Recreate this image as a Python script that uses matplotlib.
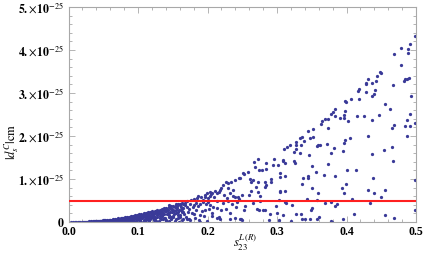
import numpy as np
import matplotlib
matplotlib.use("Agg")
import matplotlib.pyplot as plt
from matplotlib.ticker import MultipleLocator

plt.rcParams['mathtext.fontset'] = 'stix'
plt.rcParams['font.family'] = ['Liberation Serif', 'DejaVu Serif']

# ---- data (s23 in units, |d_s^C| in units of 1e-25 cm) ----
far_x = [0.499,0.491,0.478,0.489,0.489,0.468,0.479,0.448,0.449,0.444,0.490,0.487,0.484,0.483,
         0.431,0.428,0.428,0.442,0.436,0.467,0.418,0.417,0.441,0.428,0.439,0.436,0.493,0.406,
         0.418,0.398,0.399,0.456,0.462,0.384,0.398,0.380,0.378,0.447,0.492,
         0.384,0.396,0.396,0.391,0.402,0.415,0.425,0.437,0.498,0.487,0.492,0.484,0.468,0.465,
         0.431,0.487,0.405,0.398,0.396,0.382,0.377,0.395,0.465,0.454,0.436,0.467,0.400,0.413,
         0.383,0.438,0.499,0.399,0.393,0.431,0.456,0.397,0.439,0.450,0.408,0.387,0.383,0.434,
         0.498,0.411,0.456,0.468,0.395,0.379]
far_y = [4.33,4.15,4.05,4.02,3.92,3.91,3.65,3.50,3.46,3.40,3.36,3.33,3.33,3.29,
         3.33,3.24,3.21,3.29,3.23,3.19,3.10,3.05,3.07,3.02,2.97,2.94,2.94,2.86,
         2.86,2.81,2.80,2.74,2.63,2.63,2.58,2.55,2.52,2.49,2.52,
         2.47,2.48,2.43,2.41,2.35,2.47,2.47,2.38,2.31,2.38,2.24,2.23,2.25,2.18,
         1.99,1.99,1.95,1.90,1.84,1.72,1.60,1.66,1.74,1.67,1.57,1.43,1.22,1.22,
         1.07,1.02,0.98,0.88,0.80,0.74,0.74,0.67,0.67,0.59,0.53,0.43,0.38,0.44,
         0.29,0.19,0.16,0.09,0.08,0.01]

mid_x = [0.369,0.374,0.365,0.363,0.374,0.352,0.345,0.336,0.333,0.352,0.347,0.339,0.327,0.372,
         0.359,0.362,0.318,
         0.315,0.310,0.328,0.335,0.328,0.333,0.324,0.358,0.346,0.324,0.326,0.311,0.308,0.296,
         0.294,0.302,0.309,0.272,0.267,0.269,0.284,0.284,0.279,0.274,0.258,0.253,0.251,0.247,
         0.265,0.261,0.273,0.283,0.291,0.291,0.262,0.284,0.304,0.305,0.311,0.344,0.345,0.337,
         0.356,0.351,0.367,0.373,0.336,0.350,0.359,0.304,0.305,0.312,0.283,0.270,0.273,0.275,
         0.263,0.260,0.275,0.303,0.312,0.313,0.343,0.357,0.369,0.377,0.265,0.254,0.253,0.271,
         0.274,0.283,0.280,0.298,0.321,0.290,0.300,0.309,0.248,0.250,0.289,0.303,0.303,0.320,
         0.335,0.327,0.350,0.349,0.336,0.341,0.348,0.361,0.357,0.377]
mid_y = [2.40,2.40,2.35,2.27,2.19,2.16,2.12,1.98,1.96,1.97,1.95,1.89,1.87,1.81,
         1.80,1.79,1.80,
         1.74,1.69,1.80,1.80,1.69,1.60,1.62,1.76,1.55,1.41,1.38,1.38,1.44,1.47,
         1.32,1.32,1.41,1.47,1.40,1.29,1.38,1.23,1.20,1.21,1.16,1.12,1.13,1.02,
         0.98,0.99,0.93,0.93,0.99,0.92,0.92,0.86,1.13,1.05,1.06,1.07,1.02,1.02,
         1.16,1.31,1.10,1.35,0.88,0.78,0.68,0.73,0.70,0.73,0.82,0.81,0.69,0.61,
         0.72,0.62,0.50,0.52,0.47,0.45,0.54,0.51,0.44,0.46,0.44,0.38,0.29,0.31,
         0.28,0.28,0.27,0.38,0.40,0.19,0.22,0.16,0.08,0.05,0.05,0.05,0.00,0.03,
         0.18,0.18,0.33,0.27,0.07,0.07,0.06,0.12,0.06,0.02]

low_x = [0.240,0.234,0.227,0.230,0.222,0.218,0.216,0.213,0.206,0.203,0.199,0.204,0.196,0.187,
         0.232,0.236,0.240,0.244,0.246,0.228,0.230,0.235,0.242,0.223,0.219,0.213,0.208,0.204,
         0.201,0.194,0.189,0.184,0.180,0.175,0.170,0.165,0.163,0.172,0.180,0.189,0.196,0.206,
         0.213,0.218,0.232,0.240,0.247,0.199,0.189,0.175,0.165,
         0.167,0.169,0.171,0.173,0.174,0.176,0.178,0.179,0.181,0.182,0.183,0.185,0.186,0.188,
         0.190,0.192,0.193,0.195,0.197,0.198,0.200,0.202,0.205,0.207,0.209,0.211,0.214,0.216,
         0.220,0.224,0.226,0.229,0.233,0.237,0.241,0.245,0.249]
low_y = [0.98,0.92,0.92,0.90,0.86,0.74,0.69,0.67,0.68,0.69,0.67,0.61,0.59,0.60,
         0.67,0.61,0.57,0.59,0.53,0.55,0.49,0.43,0.47,0.45,0.28,0.32,0.36,0.40,
         0.47,0.47,0.43,0.45,0.40,0.43,0.36,0.32,0.24,0.24,0.19,0.16,0.28,0.20,
         0.085,0.07,0.06,0.085,0.07,0.02,0.01,0.05,0.06,
         0.45,0.12,0.49,0.30,0.08,0.51,0.22,0.35,0.53,0.10,0.28,0.56,0.38,0.04,
         0.58,0.25,0.52,0.13,0.62,0.42,0.55,0.30,0.65,0.15,0.58,0.72,0.48,0.12,
         0.78,0.62,0.30,0.80,0.20,0.75,0.35,1.02,0.62]

near_x = [0.003,0.006,0.009,0.011,0.013,0.015,0.017,0.019,0.021,0.022,0.024,0.025,0.027,0.028,
          0.030,0.031,0.033,0.034,0.035,0.036,0.037,0.038,0.039,0.040,
          0.041,0.042,0.043,0.044,0.045,0.046,0.047,0.048,0.049,0.050,0.051,0.052,0.053,0.054,
          0.055,0.056,0.057,0.058,0.059,0.060,0.061,0.062,0.063,0.064,0.065,0.066,0.067,0.068,
          0.069,0.070,0.071,0.072,0.073,0.074,0.075,0.076,0.077,0.078,0.079,0.080,
          0.081,0.082,0.083,0.084,0.085,0.086,0.087,0.088,0.089,0.090,0.091,0.092,0.093,0.094,
          0.095,0.096,0.097,0.098,0.099,0.100,0.101,0.102,0.103,0.104,0.105,0.106,0.107,0.108,
          0.109,0.110,0.111,0.112,0.113,0.114,0.115,0.116,0.117,0.118,0.119,0.120,
          0.083,0.087,0.091,0.095,0.099,0.103,0.107,0.111,0.115,0.119,0.101,0.113,0.117,0.093,0.089,
          0.121,0.122,0.123,0.124,0.125,0.126,0.127,0.128,0.129,0.130,0.131,0.132,0.133,0.134,
          0.135,0.136,0.137,0.138,0.139,0.140,0.141,0.142,0.143,0.144,0.145,0.146,0.147,0.148,
          0.149,0.150,0.151,0.152,0.153,0.154,0.155,0.156,0.157,0.158,0.159,0.160,0.161,0.162,
          0.163,0.164,0.165,
          0.123,0.127,0.131,0.135,0.139,0.143,0.147,0.151,0.155,0.159,0.163,0.129,0.137,0.145,
          0.153,0.161,0.133,0.141,0.149,0.157,
          0.043,0.047,0.051,0.055,0.059,0.063,0.067,0.071,0.075,0.079,0.045,0.053,0.061,0.069,0.077,
          0.082,0.084,0.086,0.088,0.090,0.092,0.094,0.096,0.098,0.100,0.102,0.104,0.106,0.108,
          0.110,0.112,0.114,0.116,0.118,0.120,
          0.121,0.124,0.126,0.128,0.130,0.132,0.134,0.136,0.138,0.140,0.142,0.144,0.146,0.148,
          0.150,0.152,0.154,0.156,0.158,0.160,0.162,0.164,0.166,0.168,0.170,0.125,0.135,0.145,
          0.155,0.165]
near_y = [0.000,0.001,0.001,0.002,0.001,0.003,0.004,0.002,0.006,0.003,0.008,0.004,0.010,0.006,
          0.012,0.005,0.015,0.009,0.019,0.004,0.013,0.022,0.008,0.017,
          0.025,0.011,0.004,0.030,0.018,0.008,0.034,0.022,0.014,0.040,0.028,0.006,0.044,0.019,
          0.032,0.050,0.011,0.040,0.025,0.058,0.003,0.047,0.030,0.065,0.016,0.052,0.072,0.036,
          0.008,0.061,0.083,0.044,0.021,0.070,0.092,0.054,0.013,0.100,0.078,0.032,
          0.108,0.062,0.088,0.118,0.040,0.096,0.126,0.071,0.018,0.135,0.105,0.052,0.145,0.085,
          0.121,0.155,0.030,0.110,0.166,0.066,0.140,0.175,0.095,0.009,0.186,0.152,0.120,0.198,
          0.045,0.168,0.210,0.080,0.135,0.222,0.188,0.025,0.235,0.105,0.160,0.245,
          0.020,0.055,0.078,0.010,0.122,0.035,0.172,0.058,0.095,0.210,0.100,0.185,0.068,0.112,0.095,
          0.090,0.205,0.150,0.260,0.040,0.230,0.120,0.275,0.185,0.012,0.290,0.245,0.070,0.160,
          0.305,0.210,0.100,0.320,0.265,0.030,0.335,0.180,0.290,0.125,0.350,0.230,0.060,0.365,
          0.310,0.150,0.380,0.260,0.020,0.395,0.200,0.330,0.095,0.410,0.285,0.430,0.170,0.360,
          0.050,0.450,0.240,
          0.055,0.200,0.140,0.240,0.085,0.215,0.300,0.115,0.420,0.010,0.300,0.250,0.290,0.170,
          0.340,0.390,0.195,0.050,0.225,0.165,
          0.020,0.012,0.036,0.008,0.045,0.052,0.025,0.040,0.030,0.058,0.028,0.030,0.020,0.050,0.085,
          0.095,0.030,0.060,0.110,0.045,0.125,0.020,0.100,0.060,0.150,0.050,0.130,0.090,0.020,
          0.115,0.190,0.060,0.150,0.220,0.130,
          0.180,0.100,0.030,0.160,0.220,0.100,0.280,0.060,0.180,0.250,0.310,0.020,0.330,0.120,
          0.270,0.190,0.080,0.380,0.230,0.120,0.270,0.330,0.190,0.400,0.060,0.200,0.130,0.400,
          0.290,0.410]

bound = 0.5           # experimental bound, 1e-25 cm
scale = 1e-25
x_ticks = [0.0, 0.1, 0.2, 0.3, 0.4, 0.5]
x_tick_labels = ['0.0', '0.1', '0.2', '0.3', '0.4', '0.5']
y_ticks = [0, 1, 2, 3, 4, 5]
y_tick_labels = [r'$\mathbf{0}$'] + [r'$\mathbf{%d.}\!\times\!\mathbf{10}^{-25}$' % k for k in y_ticks[1:]]

s23 = np.array(far_x + mid_x + low_x + near_x)
dC = np.array(far_y + mid_y + low_y + near_y) * scale

W, H = 425, 257
fig = plt.figure(figsize=(W / 100, H / 100), dpi=100)
ax = fig.add_axes([68.5 / W, 35 / H, (416 - 68.5) / W, 215 / H])

ax.scatter(s23, dC, s=5.5, color='#3a3a98', linewidths=0, zorder=2)
ax.axhline(bound * scale, color='#ff2020', lw=1.5, zorder=3)

ax.set_xlim(0, 0.5)
ax.set_ylim(0, 5 * scale)
ax.set_xticks(x_ticks)
ax.set_xticklabels(x_tick_labels, fontsize=8.5, fontweight='bold')
ax.set_yticks([v * scale for v in y_ticks])
ax.set_yticklabels(y_tick_labels, fontsize=8.5)
ax.xaxis.set_minor_locator(MultipleLocator(0.02))
ax.yaxis.set_minor_locator(MultipleLocator(0.2 * scale))

frame_col = '#a8a8a8'
for sp in ax.spines.values():
    sp.set_color(frame_col)
    sp.set_linewidth(0.8)
ax.tick_params(which='both', direction='in', top=True, right=True, color=frame_col, width=0.6)
ax.tick_params(axis='x', which='both', pad=3)
ax.tick_params(axis='y', which='both', pad=3)
ax.tick_params(which='major', length=4)
ax.tick_params(which='minor', length=2)

fig.text(0.028, 0.45, r'$|d_s^C|\mathrm{cm}$', rotation=90, fontsize=9,
         ha='center', va='center')
fig.text(245 / W, 1 - 243 / H, r'$s_{23}^{L\,(R)}$', fontsize=9, ha='center', va='center')

fig.savefig('out.png', dpi=100)
